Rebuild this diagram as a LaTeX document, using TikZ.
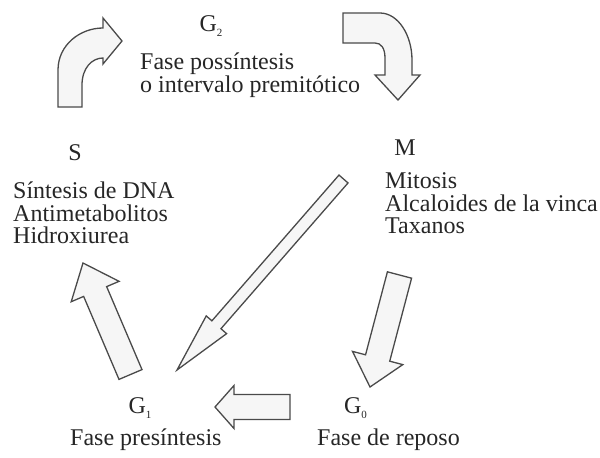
\documentclass[tikz,border=0pt]{standalone}
\usepackage{fontspec}
\setmainfont{Liberation Serif}
\usetikzlibrary{calc}
\definecolor{edge}{HTML}{4A4A4A}
\definecolor{fillc}{HTML}{F6F6F6}
\definecolor{ink}{HTML}{262626}
\newcommand\Gsub[1]{G\raisebox{-5pt}{\fontsize{11}{11}\selectfont #1}}
% name, tail, tip, shaft half-width, head half-width, head length
\newcommand\blockarrow[6]{%
  \coordinate (#1-b) at ($(#3)!#6!(#2)$);
  \path[blockarr] ($(#2)!#4!90:(#3)$) -- ($(#1-b)!#4!90:(#3)$) -- ($(#1-b)!#5!90:(#3)$) -- (#3)
    -- ($(#1-b)!#5!-90:(#3)$) -- ($(#1-b)!#4!-90:(#3)$) -- ($(#2)!#4!-90:(#3)$) -- cycle;}
\begin{document}
\begin{tikzpicture}[x=1pt,y=-1pt,
  txt/.style={font=\fontsize{24}{24}\selectfont, text=ink, inner sep=0pt},
  blockarr/.style={draw=edge, fill=fillc, line width=1.3pt, line join=miter}]
\useasboundingbox[fill=white] (0,0) rectangle (600,458);

% ---- text ----
\node[txt, anchor=base] (g2) at (211,31) {\Gsub{2}};
\node[txt, anchor=base west] (g2a) at (140,69) {Fase possíntesis};
\node[txt, anchor=base west] (g2b) at (140,92) {o intervalo premitótico};

\node[txt, anchor=base] (s) at (75,160) {S};
\node[txt, anchor=base west] (sa) at (13,198) {Síntesis de DNA};
\node[txt, anchor=base west] (sb) at (13,221) {Antimetabolitos};
\node[txt, anchor=base west] (sc) at (13,243) {Hidroxiurea};

\node[txt, anchor=base] (m) at (405,155) {M};
\node[txt, anchor=base west] (ma) at (385,188) {Mitosis};
\node[txt, anchor=base west] (mb) at (385,211) {Alcaloides de la vinca};
\node[txt, anchor=base west] (mc) at (385,233) {Taxanos};

\node[txt, anchor=base] (g1) at (140,413) {\Gsub{1}};
\node[txt, anchor=base west] (g1a) at (70,445) {Fase presíntesis};

\node[txt, anchor=base] (g0) at (355.5,413) {\Gsub{0}};
\node[txt, anchor=base west] (g0a) at (317,445) {Fase de reposo};

% ---- curved arrows ----
\path[blockarr] (58,107) -- (58,70) .. controls (58,45) and (80,28) .. (103,28)
  -- (103,18) -- (122,41) -- (103,64) -- (103,58)
  .. controls (92,58) and (82,68) .. (82,85) -- (82,107) -- cycle;

\path[blockarr] (343,13) -- (380,13) .. controls (398,13) and (412,35) .. (412,60)
  -- (412,75) -- (420,75) -- (398,100) -- (375,75) -- (385,75) -- (385,58)
  .. controls (385,48) and (381,43) .. (375,43) -- (343,43) -- cycle;

% ---- straight block arrows ----
\coordinate (dt) at (343.5,179); \coordinate (dh) at (177,370);
\blockarrow{d}{dt}{dh}{6pt}{13.5pt}{60pt}

\coordinate (rt) at (399.5,275); \coordinate (rh) at (370,387);
\blockarrow{r}{rt}{rh}{12.5pt}{26pt}{30pt}

\coordinate (lt) at (130.5,374.5); \coordinate (lh) at (83,263);
\blockarrow{l}{lt}{lh}{12.5pt}{26pt}{31pt}

\coordinate (bt) at (290,407); \coordinate (bh) at (215,407);
\blockarrow{b}{bt}{bh}{12.5pt}{21.5pt}{19pt}
\end{tikzpicture}
\end{document}
